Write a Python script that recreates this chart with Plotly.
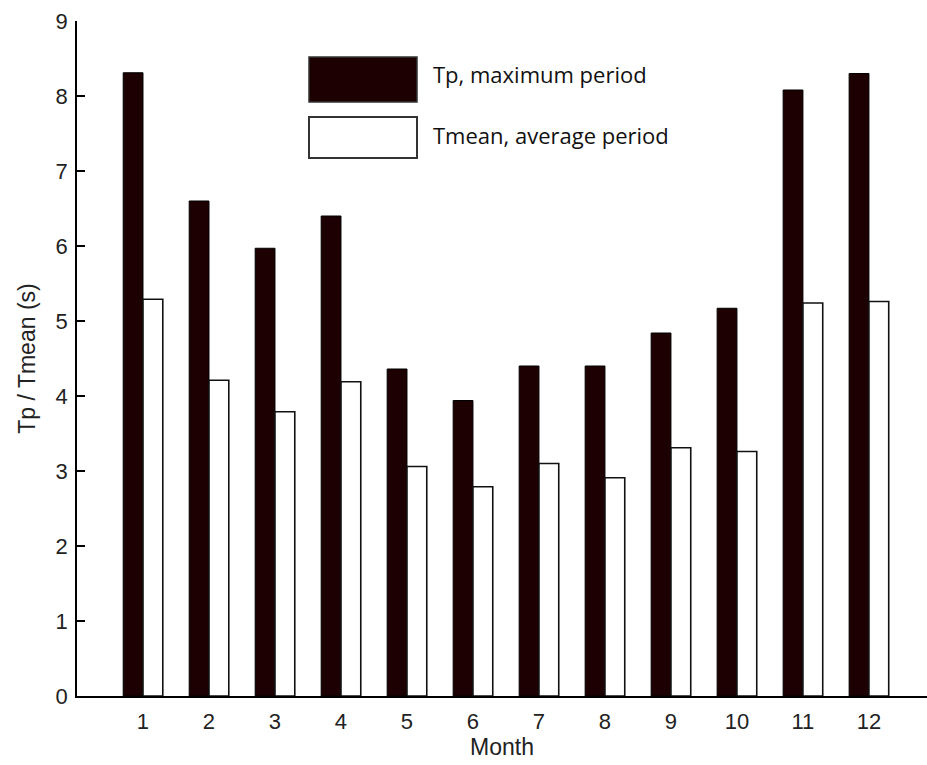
import plotly.graph_objects as go

# Monthly wave periods (seconds)
months = [str(m) for m in range(1, 13)]
tp_max = [8.31, 6.60, 5.97, 6.40, 4.36, 3.94, 4.40, 4.40, 4.84, 5.17, 8.08, 8.30]
t_mean = [5.29, 4.21, 3.79, 4.19, 3.06, 2.79, 3.10, 2.91, 3.31, 3.26, 5.24, 5.26]
y_ticks = list(range(0, 10))

name_tp = "Tp, maximum period"
name_tm = "Tmean, average period"

W, H = 927, 765
ML, MR, MT, MB = 77, 0, 21, 69
DARK = "#1c0002"
TICK_FONT = dict(family="Liberation Sans, Arial, sans-serif", size=22, color="#222222")
TITLE_FONT = dict(family="Liberation Sans, Arial, sans-serif", size=23, color="#222222")

x_pos = list(range(1, 13))

fig = go.Figure()
fig.add_trace(go.Bar(
    x=x_pos, y=tp_max, name=name_tp,
    marker=dict(color=DARK, line=dict(color="#000000", width=1)),
))
fig.add_trace(go.Bar(
    x=x_pos, y=t_mean, name=name_tm,
    marker=dict(color="#ffffff", line=dict(color="#111111", width=1.6)),
))

pw = W - ML - MR
ph = H - MT - MB


def px_x(p):
    return (p - ML) / pw


def px_y(p):
    return (H - MB - p) / ph


# Legend swatches and labels
fig.add_shape(type="rect", xref="paper", yref="paper",
              x0=px_x(309), x1=px_x(417), y0=px_y(102), y1=px_y(57),
              fillcolor=DARK, line=dict(color="#333333", width=1.5))
fig.add_shape(type="rect", xref="paper", yref="paper",
              x0=px_x(309), x1=px_x(417), y0=px_y(158), y1=px_y(117),
              fillcolor="#ffffff", line=dict(color="#333333", width=2))
legend_font = dict(family="Open Sans", size=22, color="#111111")
fig.add_annotation(xref="paper", yref="paper", x=px_x(431), y=px_y(74),
                   text=name_tp, showarrow=False, xanchor="left",
                   yanchor="middle", font=legend_font)
fig.add_annotation(xref="paper", yref="paper", x=px_x(431), y=px_y(135),
                   text=name_tm, showarrow=False, xanchor="left",
                   yanchor="middle", font=legend_font)

fig.update_layout(
    width=W, height=H,
    margin=dict(l=ML, r=MR, t=MT, b=MB, pad=0),
    paper_bgcolor="white", plot_bgcolor="white",
    barmode="group", bargap=0.4, bargroupgap=0,
    showlegend=False,
    font=TICK_FONT,
)
fig.update_xaxes(
    range=[0, 12.88], tickmode="array", tickvals=x_pos, ticktext=months,
    tickfont=TICK_FONT,
    showline=True, linecolor="#000000", linewidth=1.5,
    showgrid=False, zeroline=False, ticks="", ticklabelstandoff=5,
    title=dict(text="Month", font=TITLE_FONT, standoff=6),
)
fig.update_yaxes(
    range=[0, 9], tickmode="array", tickvals=y_ticks, tickfont=TICK_FONT,
    showline=True, linecolor="#000000", linewidth=1.5,
    showgrid=False, zeroline=False, ticks="inside", ticklen=8,
    tickwidth=1.5, tickcolor="#000000", ticklabelstandoff=3,
    title=dict(text="Tp / Tmean (s)", font=TITLE_FONT, standoff=14),
)

fig.write_html("out.html")
